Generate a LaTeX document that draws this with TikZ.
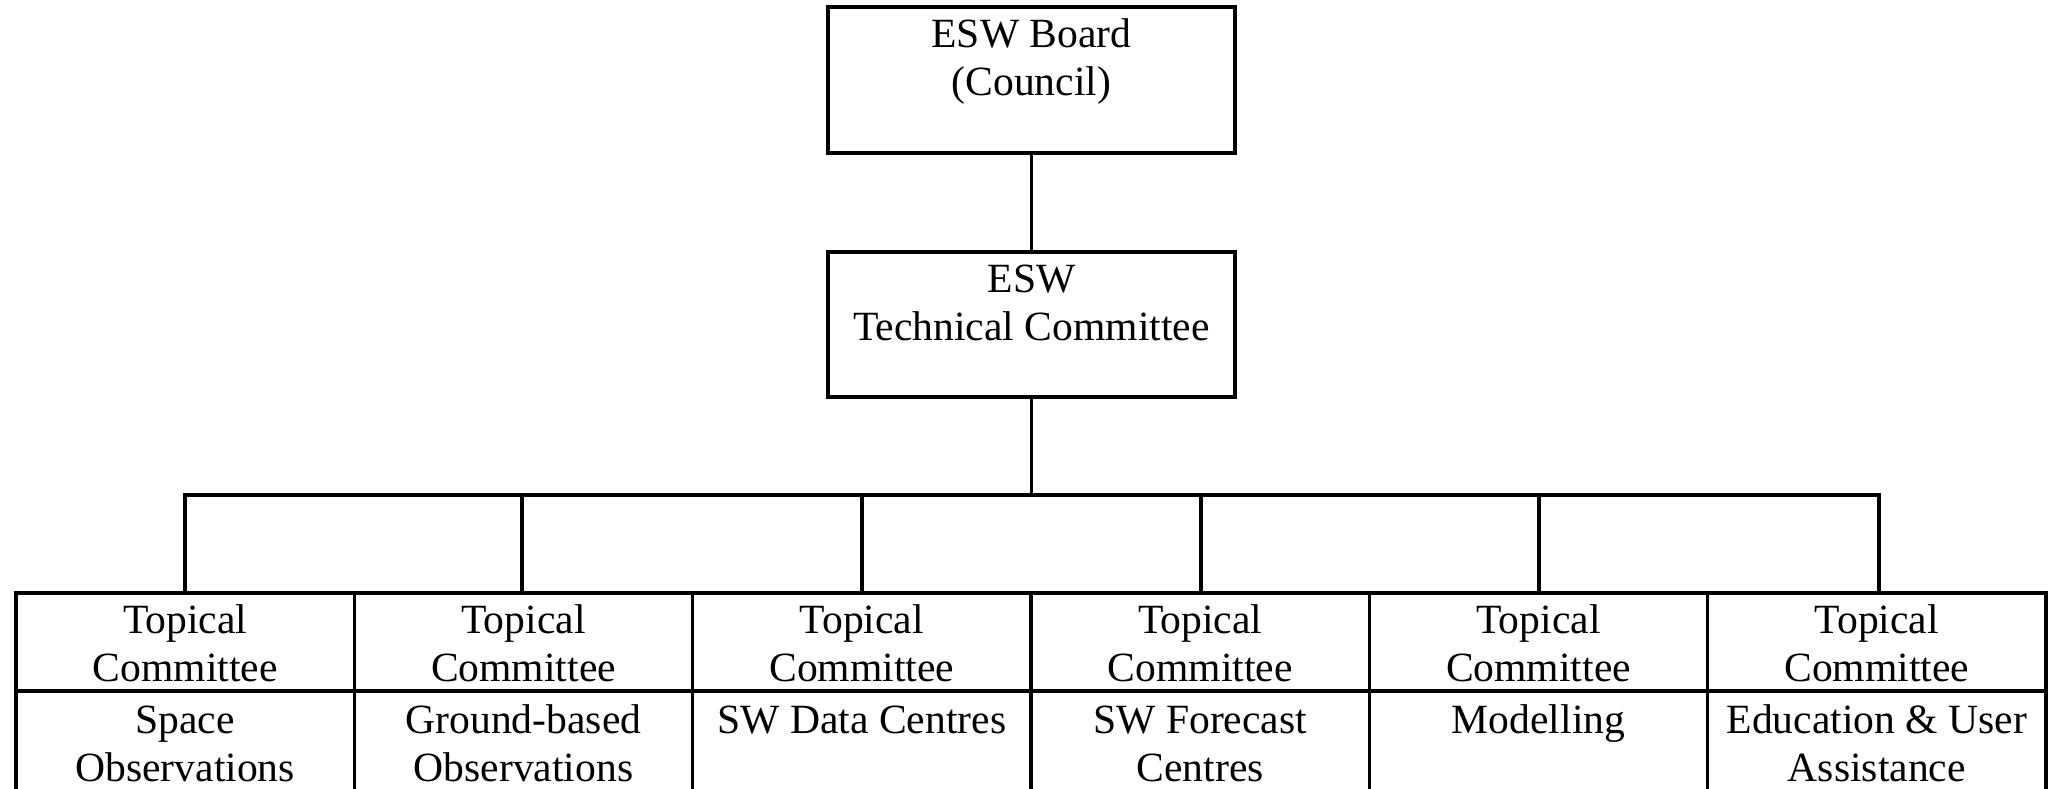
\documentclass[tikz,border=0pt]{standalone}
\usepackage{fontspec}
\setmainfont{Liberation Serif}
\begin{document}
\begin{tikzpicture}[x=0.5pt,y=-0.5pt,line width=1.6pt]
\tikzset{
  box/.style={draw=black, rectangle, inner sep=0pt, outer sep=0pt},
  txt/.style={font=\fontsize{20.8}{24}\selectfont, align=center, inner sep=0pt, anchor=north},
  cell/.style={box, minimum width=169.17pt},
}
\useasboundingbox (0,0) rectangle (2053,788);
% top boxes
\node[box, minimum width=203.5pt, minimum height=73pt] (board) at (1031.5,80) {};
\node[txt] (boardt) at ([yshift=-2.7pt]board.north) {\strut ESW Board\\(Council)};
\node[box, minimum width=203.5pt, minimum height=72.5pt] (tc) at (1031.5,324.5) {};
\node[txt] (tct) at ([yshift=-2.7pt]tc.north) {\strut ESW\\Technical Committee};
\draw (board.south) -- (tc.north);
% committee table
\foreach \i/\dx/\sub in {0/185/{Space\\Observations},1/522/{Ground-based\\Observations},2/862/{SW Data Centres},3/1201/{SW Forecast\\Centres},4/1539/{Modelling},5/1879/{Education \& User\\Assistance}}{
  \pgfmathsetmacro{\cx}{16+338.33*(\i+0.5)}
  \node[cell, minimum height=49pt] (t\i) at (\cx,642) {};
  \node[cell, minimum height=54.5pt] (s\i) at (\cx,745.5) {};
  \node[txt] (tt\i) at ([yshift=-2.7pt]t\i.north) {\strut Topical\\Committee};
  \node[txt] (st\i) at ([yshift=-3.7pt]s\i.north) {\strut \sub};
  \coordinate (b\i) at (\dx,495);
}
\draw (b0 |- t0.north) -- (b0) -- (b5) -- (b5 |- t5.north);
\foreach \i in {1,2,3,4}{
  \draw (b\i) -- (b\i |- t\i.north);
}
\draw (tc.south) -- (tc.south |- b0);
\end{tikzpicture}
\end{document}
